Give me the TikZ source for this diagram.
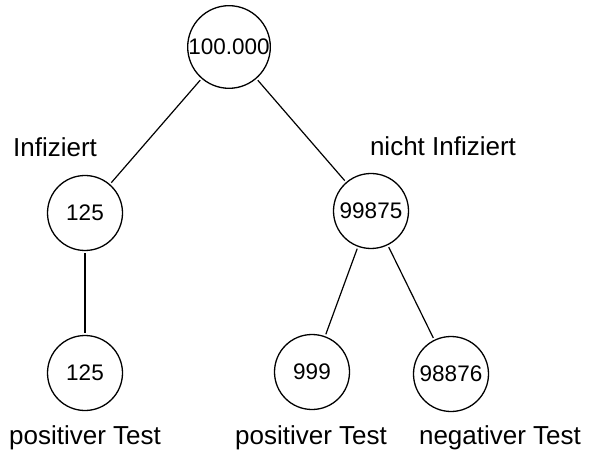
\documentclass[tikz,border=0pt]{standalone}
\usepackage{fontspec}
\setmainfont{Liberation Sans}
\begin{document}
\begin{tikzpicture}[x=1bp,y=-1bp,
  circ/.style={draw, circle, minimum size=75bp, inner sep=0pt, line width=1.3bp, font=\fontsize{22.5bp}{22.5bp}\selectfont},
  lbl/.style={font=\fontsize{26bp}{26bp}\selectfont, inner sep=0pt},
  conn/.style={line width=1.2bp, shorten <=2bp, shorten >=2bp}]
\useasboundingbox (0,0) rectangle (593,453);
\node[circ] (r) at (229,47) {100.000};
\node[circ] (a) at (85,213) {125};
\node[circ] (b) at (371,211) {99875};
\node[circ] (c) at (85,373) {125};
\node[circ] (d) at (312,372) {999};
\node[circ] (e) at (451,374) {98876};
\node[lbl] (la) at (55,147) {Infiziert};
\node[lbl] (lb) at (443,146) {nicht Infiziert};
\node[lbl] (lc) at (85,438) {positiver Test};
\node[lbl] (ld) at (311,438) {positiver Test};
\node[lbl] (le) at (500,438) {negativer Test};
\draw[conn] (r) -- (a);
\draw[conn] (r) -- (b);
\draw[conn] (a) -- (c);
\draw[conn] (b) -- (d);
\draw[conn] (b) -- (e);
\end{tikzpicture}
\end{document}
